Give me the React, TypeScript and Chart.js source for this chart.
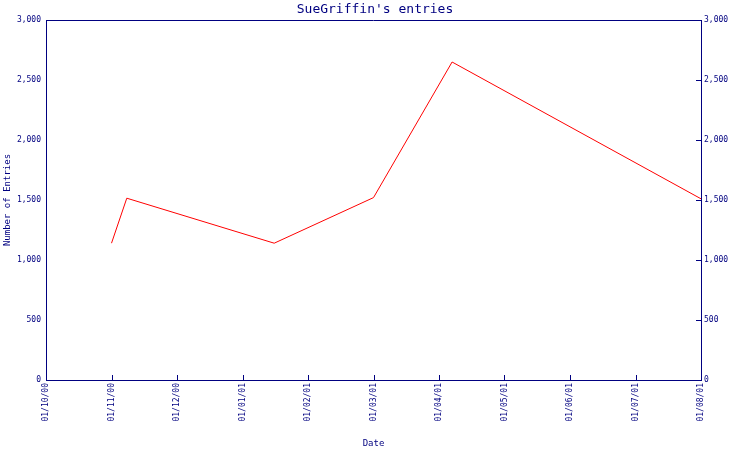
import React, { useEffect, useRef } from "react";
import { Chart, registerables } from "chart.js";

Chart.register(...registerables);

const NAVY = "#000080";
const FONT = "'DejaVu Sans Mono', monospace";

const monthLabels = [
  "01/10/00", "01/11/00", "01/12/00", "01/01/01", "01/02/01", "01/03/01",
  "01/04/01", "01/05/01", "01/06/01", "01/07/01", "01/08/01",
];
const entryDates = ["2000-11-01", "2000-11-08", "2001-01-16", "2001-03-01", "2001-04-07", "2001-08-01"];
const entryCounts = [1140, 1515, 1140, 1520, 2650, 1510];

function monthIndex(iso: string): number {
  const [y, m, d] = iso.split("-").map(Number);
  const dim = new Date(y, m, 0).getDate();
  return (y - 2000) * 12 + (m - 1) - 9 + (d - 1) / dim;
}

const inwardTicks = {
  id: "inwardTicks",
  afterDraw(chart: any) {
    const { ctx, chartArea } = chart;
    const x = chart.scales.x;
    const yR = chart.scales.y2;
    ctx.save();
    ctx.strokeStyle = NAVY;
    ctx.lineWidth = 1;
    ctx.beginPath();
    x.ticks.forEach((t: any) => {
      const px = Math.round(x.getPixelForValue(t.value)) + 0.5;
      ctx.moveTo(px, chartArea.bottom);
      ctx.lineTo(px, chartArea.bottom - 5);
    });
    yR.ticks.forEach((t: any) => {
      const py = Math.round(yR.getPixelForValue(t.value)) + 0.5;
      ctx.moveTo(chartArea.right, py);
      ctx.lineTo(chartArea.right - 5, py);
    });
    ctx.moveTo(chartArea.left, Math.round(chartArea.top) + 0.5);
    ctx.lineTo(chartArea.right, Math.round(chartArea.top) + 0.5);
    ctx.stroke();
    ctx.restore();
  },
};

export default function App() {
  const ref = useRef<HTMLCanvasElement | null>(null);
  useEffect(() => {
    if (!ref.current) return;
    const points = entryDates.map((d, i) => ({ x: monthIndex(d), y: entryCounts[i] }));
    const yCommon = {
      min: 0,
      max: 3000,
      grid: { drawOnChartArea: false, drawTicks: false },
      border: { color: NAVY, width: 1 },
    };
    const chart = new Chart(ref.current, {
      type: "line",
      data: {
        datasets: [
          {
            data: points,
            borderColor: "#ff0000",
            borderWidth: 1,
            pointRadius: 0,
            tension: 0,
            fill: false,
          },
        ],
      },
      options: {
        animation: false,
        responsive: false,
        devicePixelRatio: 1,
        layout: { padding: 0 },
        plugins: {
          legend: { display: false },
          tooltip: { enabled: false },
          title: {
            display: true,
            text: "SueGriffin's entries",
            color: NAVY,
            font: { family: FONT, size: 13, weight: "normal", lineHeight: 1 },
            padding: { top: 3, bottom: 4 },
          },
        },
        scales: {
          x: {
            type: "linear",
            min: 0,
            max: 10,
            grid: { drawOnChartArea: false, drawTicks: false },
            border: { color: NAVY, width: 1 },
            ticks: {
              stepSize: 1,
              autoSkip: false,
              minRotation: 90,
              maxRotation: 90,
              padding: 3,
              color: NAVY,
              font: { family: FONT, size: 8 },
              callback: (v: any) => monthLabels[Number(v)] ?? "",
            },
            title: {
              display: true,
              text: "Date",
              color: NAVY,
              font: { family: FONT, size: 9 },
              padding: { top: 0, bottom: 1 },
            },
            afterFit: (s: any) => { s.height = 70; },
          },
          y: {
            ...yCommon,
            position: "left",
            ticks: { stepSize: 500, padding: 5, color: NAVY, font: { family: FONT, size: 8 } },
            title: {
              display: true,
              text: "Number of Entries",
              color: NAVY,
              font: { family: FONT, size: 9 },
              padding: { top: 2, bottom: 0 },
            },
            afterFit: (s: any) => { s.width = 46; },
          },
          y2: {
            ...yCommon,
            position: "right",
            ticks: { stepSize: 500, padding: 3, color: NAVY, font: { family: FONT, size: 8 } },
            afterFit: (s: any) => { s.width = 49; },
          },
        },
      } as any,
      plugins: [inwardTicks],
    });
    return () => chart.destroy();
  }, []);
  return (
    <div style={{ position: "fixed", left: 0, top: 0, width: 750, height: 450, background: "#fff" }}>
      <canvas ref={ref} width={750} height={450} />
    </div>
  );
}
